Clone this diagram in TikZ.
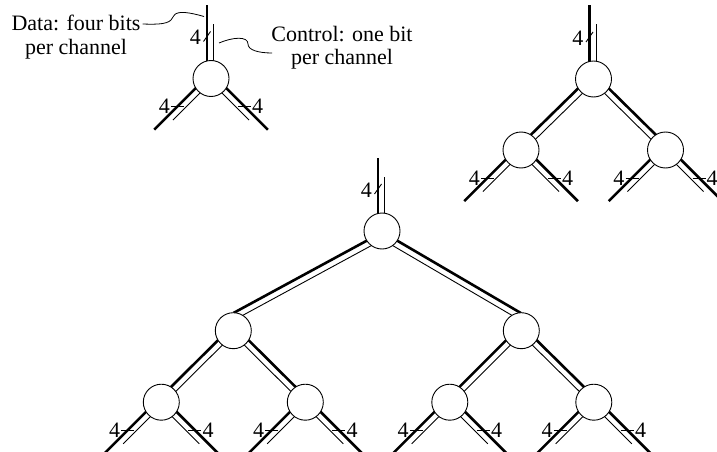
\documentclass[tikz,border=0pt]{standalone}
\usepackage{fontspec}
\setmainfont{Liberation Serif}
\usetikzlibrary{calc, positioning, backgrounds}
\tikzset{
    sw/.style={draw, circle, fill=white, minimum size=36pt, inner sep=0pt, line width=0.9pt},
    data/.style={line width=2.6pt},
    ctrl/.style={line width=0.9pt},
    tick/.style={line width=0.9pt},
    wlab/.style={font=\fontsize{22}{24}\selectfont, inner sep=1pt},
    note/.style={font=\fontsize{22}{23.3}\selectfont, align=center, inner sep=0pt},
    leader/.style={line width=0.8pt}
}
\newcommand\dofs{4pt}
\newcommand\cofs{2.5pt}
% data line on the left of #2->#3, control line on the right
\newcommand\chan[3][]{%
  \draw[data] ($(#2)!\dofs!90:(#3)$) -- ($(#3)!\dofs!-90:(#2)$);
  \draw[ctrl,#1] ($(#2)!\cofs!-90:(#3)$) -- ($(#3)!\cofs!90:(#2)$);}
% input channel on top of a switch
\newcommand\swstem[1]{%
  \coordinate[above=73.5pt of #1] (#1-top);
  \chan[shorten >=19pt]{#1}{#1-top}
  \draw[tick] ($(#1)+(-7.5,-37)$) -- ($(#1)+(-0.5,-47)$);
  \node[wlab, anchor=east] at ($(#1)+(-9,-41)$) {4};}
% two output channels below a switch
\newcommand\leafpair[1]{%
  \coordinate[below left=54pt and 54pt of #1] (#1-l);
  \coordinate[below right=54pt and 54pt of #1] (#1-r);
  \chan[shorten <=20pt]{#1-l}{#1}
  \chan[shorten >=20pt]{#1}{#1-r}
  \draw[tick] ($(#1)+(-40,28)$) coordinate (#1-ta) -- ++(13,0);
  \draw[tick] ($(#1)+(27,28)$) -- ++(13,0) coordinate (#1-tb);
  \node[wlab, anchor=east] at (#1-ta) {4};
  \node[wlab, anchor=west] at (#1-tb) {4};}

\begin{document}
\begin{tikzpicture}[x=1pt, y=-1pt, on grid]
\useasboundingbox (0,0) rectangle (717,452);

% one switch
\node[sw] (s) at (211,78.5) {};
\node[note] (dnote) at (76,37) {Data: four bits\\per channel};
\node[note] (cnote) at (342,48) {Control: one bit\\per channel};

% two levels
\node[sw] (t) at (593.5,79) {};
\node[sw, below left=71pt and 72.5pt of t] (ta) {};
\node[sw, below right=71pt and 72pt of t] (tb) {};

% three levels
\node[sw] (r) at (382,231) {};
\node[sw, below left=99.7pt and 148.7pt of r] (ma) {};
\node[sw, below right=99.7pt and 139.3pt of r] (mb) {};
\node[sw, below left=71.5pt and 72pt of ma] (la) {};
\node[sw, below right=71.5pt and 72pt of ma] (lb) {};
\node[sw, below left=71.5pt and 71.5pt of mb] (lc) {};
\node[sw, below right=71.5pt and 72.5pt of mb] (ld) {};

\begin{scope}[on background layer]
\swstem{s}
\leafpair{s}

\swstem{t}
\chan{ta}{t}
\chan{t}{tb}
\leafpair{ta}
\leafpair{tb}

\swstem{r}
\coordinate (ra) at ($(r.225)!-6pt!(ma.67)$);
\coordinate (rb) at ($(r.315)!-6pt!(mb.113)$);
\coordinate (ma-in) at ($(ma.67)!-6pt!(r.225)$);
\coordinate (mb-in) at ($(mb.113)!-6pt!(r.315)$);
\chan{ma-in}{ra}
\chan{rb}{mb-in}
\chan{la}{ma}
\chan{ma}{lb}
\chan{lc}{mb}
\chan{mb}{ld}
\leafpair{la}
\leafpair{lb}
\leafpair{lc}
\leafpair{ld}
\end{scope}

% leaders
\coordinate (dfrom) at ($(dnote.east)+(2,-13)$);
\coordinate (dtip) at ($(s)+(-7,-62)$);
\coordinate (ctip) at ($(s)+(8,-35.5)$);
\coordinate (cend) at ($(cnote.west)+(1,5)$);
\draw[leader] (dfrom) .. controls +(25,1) and +(-3,6) .. ++(31,-8)
  .. controls +(3,-6) and +(-14,-4) .. (dtip);
\draw[leader] (ctip) .. controls +(14,-6) and +(0,-8) .. ++(29,1)
  .. controls +(0,6) and +(-14,0) .. (cend);
\end{tikzpicture}
\end{document}
